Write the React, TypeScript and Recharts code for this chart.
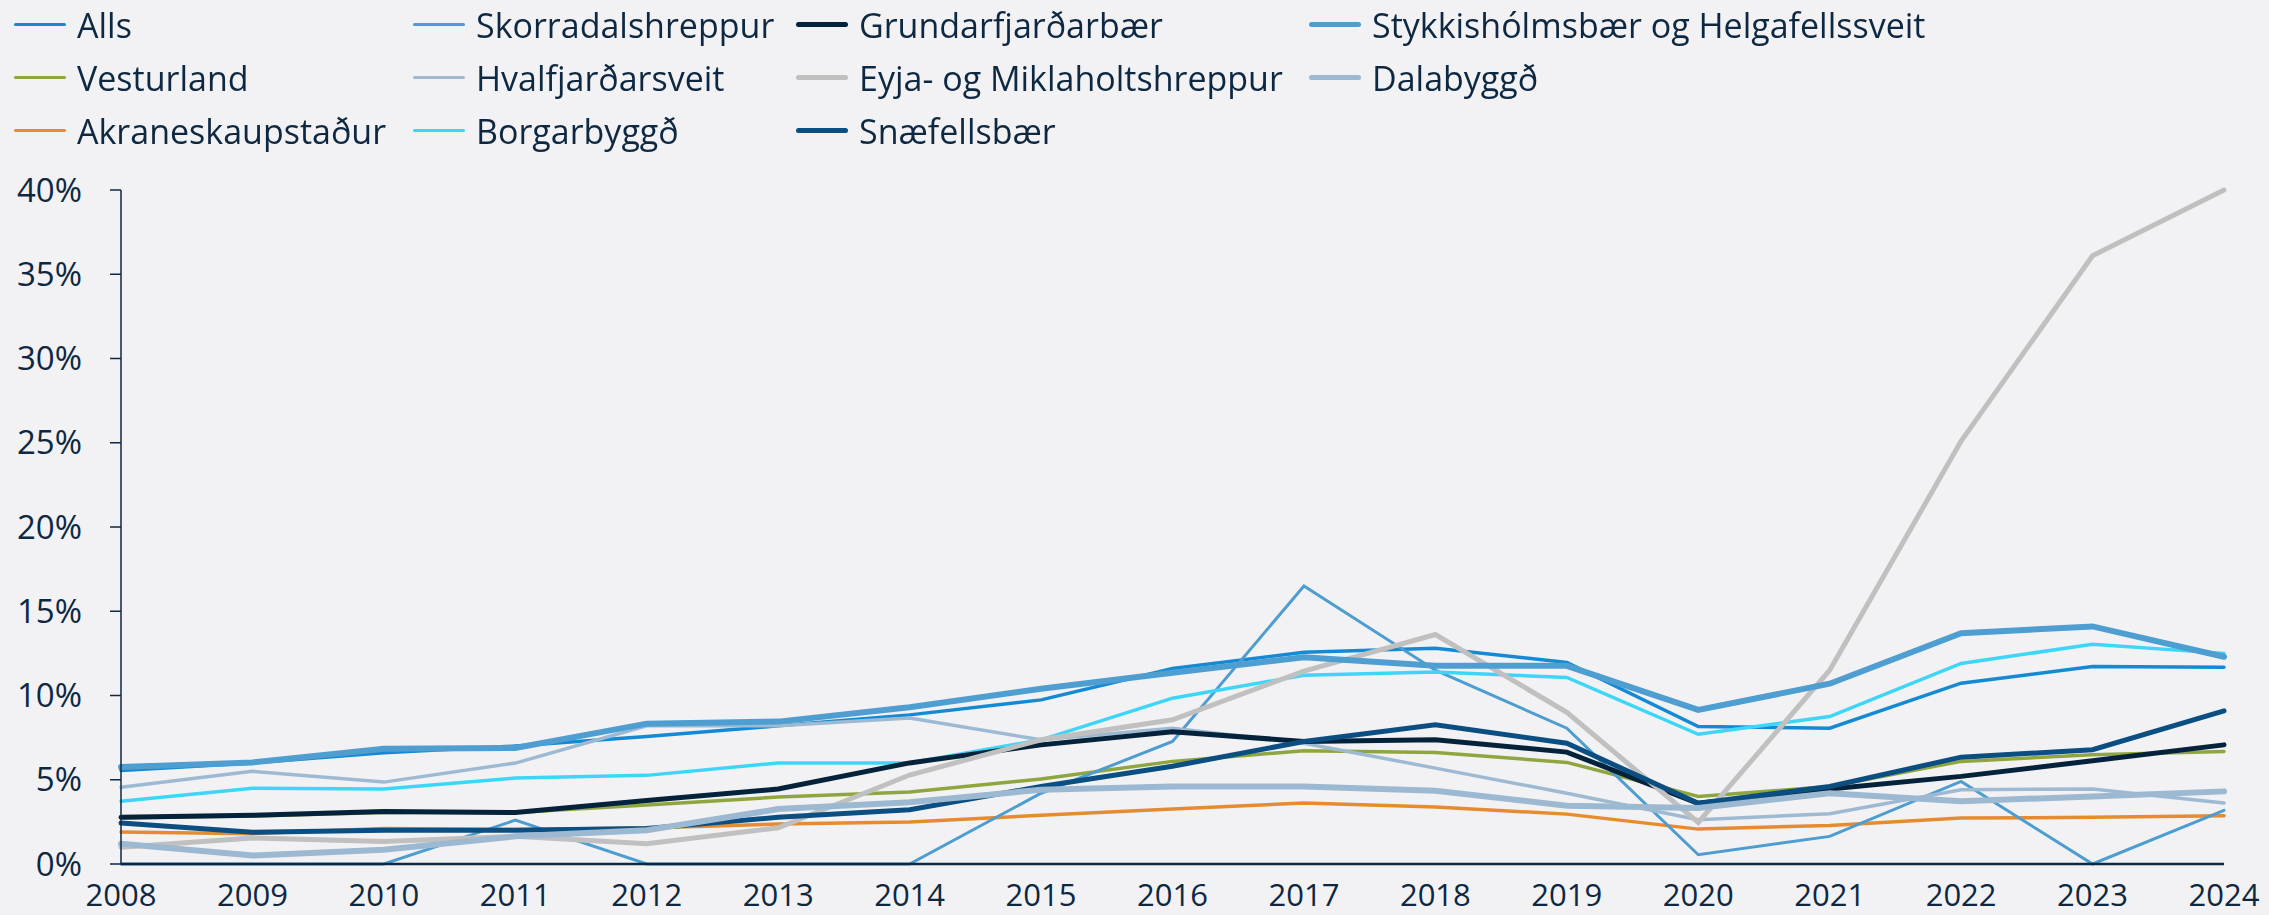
import { LineChart, Line, XAxis, YAxis, Legend } from 'recharts';

const YEARS = ['2008', '2009', '2010', '2011', '2012', '2013', '2014', '2015', '2016', '2017', '2018', '2019', '2020', '2021', '2022', '2023', '2024'];

// hlutfall í %
const ALLS = [5.55, 6.0, 6.6, 7.0, 7.57, 8.2, 8.85, 9.74, 11.6, 12.57, 12.8, 11.96, 8.16, 8.06, 10.73, 11.72, 11.68];
const VESTURLAND = [2.75, 2.85, 3.05, 3.05, 3.5, 3.97, 4.27, 5.04, 6.09, 6.72, 6.62, 6.03, 4.01, 4.6, 6.09, 6.48, 6.68];
const AKRANES = [1.9, 1.8, 2.1, 2.05, 2.13, 2.37, 2.49, 2.89, 3.26, 3.62, 3.38, 2.96, 2.07, 2.29, 2.73, 2.77, 2.87];
const SKORRADALS = [0, 0, 0, 2.6, 0, 0, 0, 4.2, 7.27, 16.5, 11.5, 8.06, 0.55, 1.64, 4.9, 0, 3.18];
const HVALFJ = [4.55, 5.5, 4.86, 5.99, 8.2, 8.2, 8.66, 7.37, 8.06, 7.17, 5.69, 4.2, 2.63, 2.98, 4.41, 4.45, 3.62];
const BORGAR = [3.73, 4.5, 4.45, 5.1, 5.26, 6.0, 6.0, 7.37, 9.84, 11.2, 11.4, 11.07, 7.7, 8.75, 11.9, 13.04, 12.5];
const GRUNDAR = [2.77, 2.89, 3.12, 3.06, 3.77, 4.45, 6.0, 7.07, 7.85, 7.27, 7.37, 6.64, 3.6, 4.45, 5.2, 6.13, 7.07];
const EYJA = [1.0, 1.54, 1.34, 1.64, 1.2, 2.15, 5.28, 7.37, 8.56, 11.45, 13.62, 9.0, 2.47, 11.5, 25.1, 36.1, 40.0];
const SNAEFELLS = [2.43, 1.88, 2.0, 2.0, 2.1, 2.77, 3.22, 4.6, 5.8, 7.27, 8.26, 7.17, 3.6, 4.6, 6.34, 6.78, 9.09];
const STYKKIS = [5.75, 6.03, 6.84, 6.88, 8.33, 8.45, 9.3, 10.4, 11.35, 12.27, 11.76, 11.76, 9.15, 10.7, 13.7, 14.1, 12.3];
const DALA = [1.2, 0.5, 0.85, 1.64, 2.0, 3.26, 3.66, 4.41, 4.6, 4.6, 4.35, 3.46, 3.32, 4.2, 3.72, 4.01, 4.31];

const Y_TICKS = [0, 5, 10, 15, 20, 25, 30, 35, 40];

const TEXT = '#0E2841';
const FONT = '"Open Sans", sans-serif';

const SERIES = [
  { key: 'alls', name: 'Alls', values: ALLS, color: '#138AD3', width: 3.5 },
  { key: 'vest', name: 'Vesturland', values: VESTURLAND, color: '#8FA63E', width: 3.5 },
  { key: 'akra', name: 'Akraneskaupstaður', values: AKRANES, color: '#E68C2E', width: 3.5 },
  { key: 'skor', name: 'Skorradalshreppur', values: SKORRADALS, color: '#4D9DD0', width: 3 },
  { key: 'hval', name: 'Hvalfjarðarsveit', values: HVALFJ, color: '#9EBAD3', width: 3.5 },
  { key: 'borg', name: 'Borgarbyggð', values: BORGAR, color: '#3ED6F8', width: 3.5 },
  { key: 'grun', name: 'Grundarfjarðarbær', values: GRUNDAR, color: '#04233A', width: 5 },
  { key: 'eyja', name: 'Eyja- og Miklaholtshreppur', values: EYJA, color: '#C0C0C0', width: 5 },
  { key: 'snae', name: 'Snæfellsbær', values: SNAEFELLS, color: '#0B4E82', width: 5 },
  { key: 'styk', name: 'Stykkishólmsbær og Helgafellssveit', values: STYKKIS, color: '#4F9ED2', width: 6 },
  { key: 'dala', name: 'Dalabyggð', values: DALA, color: '#9CB9D1', width: 6 },
];

const data = YEARS.map((year, i) => {
  const row: Record<string, string | number> = { year };
  SERIES.forEach(s => { row[s.key] = s.values[i]; });
  return row;
});

// legend in 3 rows, column-major like the original
const LegendGrid = () => (
  <div
    style={{
      display: 'grid',
      gridAutoFlow: 'column',
      gridTemplateRows: 'repeat(3, 53px)',
      gridTemplateColumns: '399px 383px 513px auto',
      paddingLeft: 14,
      marginTop: -2,
      fontFamily: FONT,
      fontSize: 34,
      color: TEXT,
    }}
  >
    {SERIES.map(s => (
      <div key={s.key} style={{ display: 'flex', alignItems: 'center', whiteSpace: 'nowrap' }}>
        <span
          style={{
            display: 'inline-block',
            width: 52,
            height: Math.min(s.width, 5),
            background: s.color,
            borderRadius: 3,
            marginRight: 11,
          }}
        />
        <span>{s.name}</span>
      </div>
    ))}
  </div>
);

export default function App() {
  return (
    <div style={{ position: 'fixed', left: 0, top: 0, width: 2269, height: 915, background: '#F2F2F5' }}>
      <LineChart width={2269} height={915} data={data} margin={{ top: 190, right: 45, left: 0, bottom: 0 }}>
        <XAxis
          dataKey="year"
          interval={0}
          padding={{ left: 0, right: 0 }}
          height={51}
          tickLine={false}
          tickMargin={14}
          axisLine={{ stroke: TEXT, strokeWidth: 2.5 }}
          tick={{ fill: TEXT, fontSize: 31, fontFamily: FONT }}
        />
        <YAxis
          width={121}
          domain={[0, 40]}
          ticks={Y_TICKS}
          interval={0}
          tickFormatter={(v: number) => `${v}%`}
          tickSize={11}
          tickMargin={28}
          axisLine={{ stroke: TEXT, strokeWidth: 1.5 }}
          tickLine={{ stroke: TEXT, strokeWidth: 1.5 }}
          tick={{ fill: TEXT, fontSize: 33, fontFamily: FONT }}
        />
        <Legend
          layout="horizontal"
          verticalAlign="middle"
          align="center"
          wrapperStyle={{ top: 0, left: 0, width: 2269, height: 160 }}
          content={() => <LegendGrid />}
        />
        {SERIES.map(s => (
          <Line
            key={s.key}
            type="linear"
            dataKey={s.key}
            name={s.name}
            stroke={s.color}
            strokeWidth={s.width}
            strokeLinecap="round"
            dot={false}
            activeDot={false}
            isAnimationActive={false}
          />
        ))}
      </LineChart>
    </div>
  );
}
